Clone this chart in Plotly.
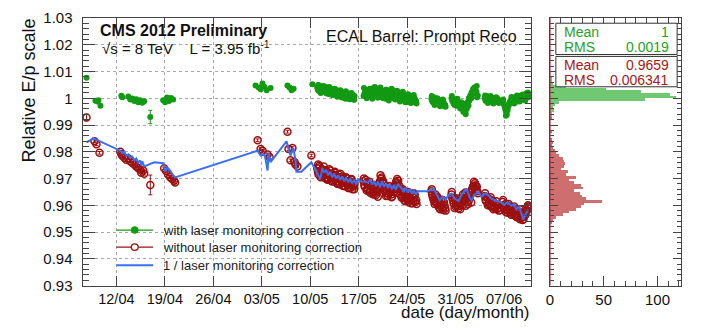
import plotly.graph_objects as go

# ---------------- data (x = day counted from 1 April 2012) ----------------
x_tick_vals = [12, 19, 26, 33, 40, 47, 54, 61, 68]
x_tick_text = ["12/04", "19/04", "26/04", "03/05", "10/05", "17/05", "24/05", "31/05", "07/06"]
y_tick_vals = [0.93, 0.94, 0.95, 0.96, 0.97, 0.98, 0.99, 1.0, 1.01, 1.02, 1.03]
y_tick_text = ["0.93", "0.94", "0.95", "0.96", "0.97", "0.98", "0.99", "1", "1.01", "1.02", "1.03"]
hist_tick_vals = [0, 50, 100]
hist_tick_text = ["0", "50", "100"]

# isolated early runs
green_sparse_x = [7.69, 8.98, 9.27, 9.41, 9.70, 12.72, 12.86, 13.72, 14.0, 14.3, 14.6, 14.87, 15.16, 15.45,
                  15.74, 16.02, 16.9, 18.75, 19.04, 19.33, 19.6, 19.9, 20.2, 32.1, 32.55, 32.83, 33.1, 33.4,
                  33.7, 34.27, 36.7, 37.0, 37.3, 37.6, 40.3]
green_sparse_y = [1.0077, 0.9991, 0.9988, 0.9993, 0.9972, 1.0009, 1.0004, 1.0007, 0.9995, 0.9999, 0.9990,
                  0.9996, 0.9985, 0.9993, 0.9983, 0.9989, 0.9930, 0.9993, 0.9985, 1.0003, 0.9990, 1.0001,
                  0.9995, 1.0048, 1.0040, 1.0034, 1.0055, 1.0042, 1.0030, 1.0038, 1.0048, 1.0040, 1.0030,
                  1.0036, 1.0052]
green_sparse_err = [0.0006, 0.0005, 0.0005, 0.0005, 0.0005, 0.0005, 0.0005, 0.0005, 0.0005, 0.0005, 0.0005,
                    0.0005, 0.0005, 0.0005, 0.0005, 0.0005, 0.0025, 0.0005, 0.0005, 0.0005, 0.0005, 0.0005,
                    0.0005, 0.0005, 0.0005, 0.0005, 0.0005, 0.0005, 0.0005, 0.0005, 0.0005, 0.0005, 0.0005,
                    0.0005, 0.0007]

red_sparse_x = [7.69, 8.84, 9.13, 9.56, 12.57, 12.72, 12.86, 13.15, 13.44, 13.72, 14.0, 14.3, 14.6, 14.87,
                15.16, 15.45, 15.59, 15.88, 16.02, 16.9, 18.9, 19.18, 19.47, 19.76, 20.05, 20.33, 20.48,
                32.40, 32.83, 33.12, 33.84, 34.13, 36.71, 36.86, 37.14, 37.43, 37.72, 37.86, 38.15, 40.16]
red_sparse_y = [0.9928, 0.9839, 0.9828, 0.9796, 0.9800, 0.9792, 0.9785, 0.9778, 0.9770, 0.9776, 0.9765,
                0.9758, 0.9752, 0.9745, 0.9738, 0.9733, 0.9722, 0.9730, 0.9718, 0.9676, 0.9738, 0.9728,
                0.9715, 0.9705, 0.9698, 0.9692, 0.9685, 0.9843, 0.9810, 0.9804, 0.9790, 0.9780, 0.9875,
                0.9810, 0.9768, 0.9814, 0.9762, 0.9752, 0.9745, 0.9786]
red_sparse_err = [0.0012, 0.0005, 0.0005, 0.0005, 0.0005, 0.0005, 0.0005, 0.0005, 0.0005, 0.0005, 0.0005,
                  0.0005, 0.0005, 0.0005, 0.0005, 0.0005, 0.0005, 0.0005, 0.0005, 0.0037, 0.0005, 0.0005,
                  0.0005, 0.0005, 0.0005, 0.0005, 0.0005, 0.0005, 0.0005, 0.0005, 0.0005, 0.0005, 0.0005,
                  0.0005, 0.0005, 0.0005, 0.0005, 0.0005, 0.0005, 0.0005]

# dense period: runs (same timestamps for corrected and uncorrected points)
run_a_x = [41.0, 41.2, 41.4, 41.6, 41.8, 42.0, 42.2, 42.4, 42.6, 42.8, 43.0, 43.2, 43.4, 43.6, 43.8, 44.0,
           44.2, 44.4, 44.6, 44.8, 45.0, 45.2, 45.4, 45.6, 45.8, 46.0, 46.2, 46.4]
run_a2_x = [41.1, 41.3, 41.5, 41.7, 41.9, 42.1, 42.3, 42.5, 42.7, 42.9, 43.1, 43.3, 43.5, 43.7, 43.9, 44.1,
            44.3, 44.5, 44.7, 44.9, 45.1, 45.3, 45.5, 45.7, 45.9, 46.1, 46.3]
run_a3_x = [41.15, 41.55, 41.95, 42.35, 42.75, 43.15, 43.55, 43.95, 44.35, 44.75, 45.15, 45.55, 45.95, 46.35]
run_b_x = [47.7, 47.9, 48.1, 48.3, 48.5, 48.7, 48.9, 49.1, 49.3, 49.5, 49.7, 49.9, 50.1, 50.3, 50.5, 50.7,
           50.9, 51.1, 51.3, 51.5, 51.7, 51.9, 52.1, 52.3, 52.5, 52.7, 52.9, 53.1, 53.3, 53.5, 53.7, 53.9,
           54.1, 54.3, 54.5, 54.7, 54.9, 55.1, 55.3]
run_b2_x = [47.8, 48.0, 48.2, 48.4, 48.6, 48.8, 49.0, 49.2, 49.4, 49.6, 49.8, 50.0, 50.2, 50.4, 50.6, 50.8,
            51.0, 51.2, 51.4, 51.6, 51.8, 52.0, 52.2, 52.4, 52.6, 52.8, 53.0, 53.2, 53.4, 53.6, 53.8, 54.0,
            54.2, 54.4, 54.6, 54.8, 55.0, 55.2]
run_b3_x = [47.75, 48.15, 48.55, 48.95, 49.35, 49.75, 50.15, 50.55, 50.95, 51.35, 51.75, 52.15, 52.55, 52.95,
            53.35, 53.75, 54.15, 54.55, 54.95, 55.35]
run_c_x = [57.5, 57.7, 57.9, 58.1, 58.3, 58.5, 58.7, 58.9, 59.1, 59.3, 59.5]
run_c2_x = [57.6, 57.8, 58.0, 58.2, 58.4, 58.6, 58.8, 59.0, 59.2, 59.4]
run_c3_x = [57.55, 57.95, 58.35, 58.75, 59.15, 59.55]
run_d_x = [60.4, 60.6, 60.8, 61.0, 61.2, 61.4, 61.6, 61.8, 62.0, 62.2, 62.4, 62.6, 62.8, 63.0, 63.2, 63.4,
           63.6, 63.8, 64.0, 64.2]
run_d2_x = [60.5, 60.7, 60.9, 61.1, 61.3, 61.5, 61.7, 61.9, 62.1, 62.3, 62.5, 62.7, 62.9, 63.1, 63.3, 63.5,
            63.7, 63.9, 64.1]
run_d3_x = [60.45, 60.85, 61.25, 61.65, 62.05, 62.45, 62.85, 63.25, 63.65, 64.05]
run_e_x = [65.2, 65.4, 65.6, 65.8, 66.0, 66.2, 66.4, 66.6, 66.8, 67.0, 67.2]
run_e2_x = [65.3, 65.5, 65.7, 65.9, 66.1, 66.3, 66.5, 66.7, 66.9, 67.1]
run_e3_x = [65.25, 65.65, 66.05, 66.45, 66.85, 67.25]
run_f_x = [67.8, 68.0, 68.2, 68.4, 68.6, 68.8, 69.0, 69.2, 69.4, 69.6, 69.8, 70.0, 70.2, 70.4, 70.6, 70.8,
           71.0, 71.2, 71.4, 71.6]
run_f2_x = [67.9, 68.1, 68.3, 68.5, 68.7, 68.9, 69.1, 69.3, 69.5, 69.7, 69.9, 70.1, 70.3, 70.5, 70.7, 70.9,
            71.1, 71.3, 71.5]
run_f3_x = [67.85, 68.25, 68.65, 69.05, 69.45, 69.85, 70.25, 70.65, 71.05, 71.45]

green_a = [1.0040, 1.0028, 1.0045, 1.0032, 1.0038, 1.0025, 1.0042, 1.0030, 1.0036, 1.0022, 1.0034, 1.0026,
           1.0018, 1.0030, 1.0020, 1.0028, 1.0012, 1.0024, 1.0016, 1.0008, 1.0020, 1.0010, 1.0002, 1.0015,
           1.0005, 1.0012, 0.9998, 1.0008]
green_a2 = [1.0032, 1.0048, 1.0020, 1.0036, 1.0044, 1.0024, 1.0030, 1.0040, 1.0016, 1.0028, 1.0035, 1.0012,
            1.0022, 1.0032, 1.0006, 1.0018, 1.0026, 1.0004, 1.0014, 1.0022, 0.9998, 1.0010, 1.0018, 0.9996,
            1.0006, 1.0014, 0.9994]
green_a3 = [1.0050, 1.0022, 1.0046, 1.0018, 1.0042, 1.0012, 1.0036, 1.0008, 1.0030, 1.0002, 1.0026, 0.9998,
            1.0020, 0.9995]
green_b = [1.0008, 1.0022, 1.0015, 1.0030, 1.0018, 1.0025, 1.0010, 1.0032, 1.0020, 1.0035, 1.0018, 1.0005,
           1.0020, 1.0028, 1.0012, 1.0022, 0.9998, 1.0015, 1.0025, 1.0008, 1.0020, 1.0030, 1.0010, 0.9995,
           1.0012, 1.0022, 1.0005, 0.9992, 1.0010, 1.0018, 0.9995, 1.0005, 0.9988, 1.0002, 0.9992, 1.0008,
           0.9985, 0.9998, 0.9990]
green_b2 = [1.0015, 1.0030, 1.0005, 1.0024, 1.0036, 1.0012, 1.0028, 1.0040, 1.0015, 1.0026, 1.0010, 1.0030,
            1.0016, 1.0004, 1.0026, 1.0018, 1.0032, 1.0012, 1.0000, 1.0022, 1.0014, 1.0026, 1.0002, 1.0018,
            1.0008, 0.9998, 1.0016, 1.0004, 1.0020, 0.9996, 1.0010, 0.9992, 1.0002, 0.9984, 0.9998, 0.9990,
            1.0002, 0.9986]
green_b3 = [1.0038, 1.0000, 1.0034, 0.9998, 1.0042, 1.0002, 1.0040, 1.0000, 1.0032, 0.9992, 1.0036, 0.9998,
            1.0028, 0.9988, 1.0024, 0.9985, 1.0015, 0.9982, 1.0012, 0.9980]
green_c = [0.9998, 0.9985, 1.0002, 0.9990, 0.9980, 0.9995, 0.9985, 0.9978, 0.9992, 0.9982, 0.9975]
green_c2 = [0.9990, 1.0004, 0.9980, 0.9996, 0.9986, 0.9975, 0.9990, 0.9976, 0.9986, 0.9970]
green_c3 = [1.0008, 0.9975, 1.0000, 0.9970, 0.9995, 0.9968]
green_d = [1.0000, 0.9988, 0.9995, 0.9978, 0.9990, 0.9982, 0.9970, 0.9985, 0.9965, 0.9956, 0.9945, 0.9960,
           0.9978, 0.9992, 1.0005, 1.0016, 1.0030, 1.0041, 1.0025, 1.0010]
green_d2 = [0.9992, 0.9980, 0.9986, 0.9972, 0.9985, 0.9975, 0.9978, 0.9962, 0.9950, 0.9952, 0.9968, 0.9985,
            1.0000, 1.0010, 1.0022, 1.0034, 1.0028, 1.0018, 1.0004]
green_d3 = [1.0008, 0.9975, 0.9998, 0.9962, 0.9980, 0.9940, 0.9972, 1.0000, 1.0038, 1.0046]
green_e = [1.0000, 0.9990, 1.0005, 0.9995, 0.9985, 1.0002, 0.9992, 0.9998, 0.9988, 1.0000, 0.9993]
green_e2 = [0.9992, 1.0008, 0.9988, 0.9998, 0.9992, 0.9985, 1.0000, 0.9990, 0.9995, 0.9985]
green_e3 = [1.0010, 0.9982, 1.0008, 0.9980, 1.0004, 0.9982]
green_f = [0.9990, 0.9975, 0.9956, 0.9938, 0.9968, 0.9985, 0.9995, 1.0000, 0.9985, 0.9992, 1.0002, 0.9990,
           1.0008, 0.9998, 1.0005, 1.0010, 0.9995, 1.0016, 1.0008, 1.0012]
green_f2 = [0.9982, 0.9965, 0.9948, 0.9955, 0.9978, 0.9990, 0.9984, 0.9994, 1.0004, 0.9986, 0.9996, 1.0006,
            0.9992, 1.0002, 1.0014, 1.0000, 1.0008, 1.0020, 1.0004]
green_f3 = [0.9995, 0.9935, 0.9975, 1.0005, 0.9980, 1.0010, 0.9988, 1.0012, 0.9992, 1.0022]

red_a = [0.9738, 0.9715, 0.9742, 0.9722, 0.9708, 0.9732, 0.9712, 0.9725, 0.9700, 0.9720, 0.9703, 0.9715,
         0.9692, 0.9712, 0.9688, 0.9706, 0.9680, 0.9700, 0.9684, 0.9696, 0.9672, 0.9690, 0.9676, 0.9692,
         0.9665, 0.9686, 0.9670, 0.9680]
red_a2 = [0.9725, 0.9748, 0.9705, 0.9735, 0.9718, 0.9702, 0.9728, 0.9695, 0.9715, 0.9730, 0.9690, 0.9708,
          0.9722, 0.9685, 0.9700, 0.9715, 0.9678, 0.9695, 0.9708, 0.9672, 0.9688, 0.9700, 0.9665, 0.9682,
          0.9695, 0.9660, 0.9675]
red_a3 = [0.9752, 0.9712, 0.9745, 0.9698, 0.9735, 0.9690, 0.9725, 0.9680, 0.9718, 0.9672, 0.9705, 0.9665,
          0.9698, 0.9660]
red_b = [0.9690, 0.9668, 0.9684, 0.9660, 0.9678, 0.9655, 0.9672, 0.9650, 0.9666, 0.9638, 0.9655, 0.9672,
         0.9690, 0.9704, 0.9682, 0.9662, 0.9646, 0.9668, 0.9642, 0.9660, 0.9640, 0.9664, 0.9650, 0.9668,
         0.9682, 0.9692, 0.9672, 0.9650, 0.9632, 0.9652, 0.9625, 0.9645, 0.9622, 0.9640, 0.9618, 0.9636,
         0.9615, 0.9638, 0.9620]
red_b2 = [0.9675, 0.9695, 0.9662, 0.9680, 0.9648, 0.9668, 0.9660, 0.9640, 0.9658, 0.9648, 0.9665, 0.9685,
          0.9698, 0.9690, 0.9670, 0.9652, 0.9660, 0.9635, 0.9655, 0.9648, 0.9632, 0.9658, 0.9672, 0.9688,
          0.9678, 0.9660, 0.9642, 0.9628, 0.9645, 0.9618, 0.9635, 0.9628, 0.9612, 0.9630, 0.9622, 0.9608,
          0.9628, 0.9612]
red_b3 = [0.9700, 0.9655, 0.9688, 0.9642, 0.9676, 0.9632, 0.9712, 0.9690, 0.9635, 0.9672, 0.9630, 0.9675,
          0.9698, 0.9640, 0.9660, 0.9615, 0.9650, 0.9608, 0.9645, 0.9605]
red_c = [0.9652, 0.9630, 0.9615, 0.9640, 0.9605, 0.9625, 0.9598, 0.9618, 0.9590, 0.9612, 0.9588]
red_c2 = [0.9640, 0.9622, 0.9632, 0.9610, 0.9620, 0.9592, 0.9608, 0.9600, 0.9582, 0.9598]
red_c3 = [0.9660, 0.9605, 0.9632, 0.9585, 0.9620, 0.9580]
red_d = [0.9640, 0.9618, 0.9628, 0.9595, 0.9612, 0.9588, 0.9608, 0.9622, 0.9600, 0.9635, 0.9648, 0.9628,
         0.9605, 0.9625, 0.9648, 0.9662, 0.9672, 0.9682, 0.9660, 0.9645]
red_d2 = [0.9628, 0.9608, 0.9620, 0.9602, 0.9595, 0.9615, 0.9598, 0.9612, 0.9628, 0.9618, 0.9640, 0.9612,
          0.9618, 0.9638, 0.9655, 0.9670, 0.9665, 0.9675, 0.9652]
red_d3 = [0.9650, 0.9590, 0.9625, 0.9585, 0.9640, 0.9598, 0.9635, 0.9610, 0.9688, 0.9670]
red_e = [0.9635, 0.9615, 0.9628, 0.9608, 0.9622, 0.9600, 0.9615, 0.9592, 0.9605, 0.9585, 0.9600]
red_e2 = [0.9622, 0.9628, 0.9605, 0.9615, 0.9595, 0.9610, 0.9598, 0.9588, 0.9598, 0.9590]
red_e3 = [0.9645, 0.9600, 0.9630, 0.9585, 0.9615, 0.9580]
red_f = [0.9612, 0.9592, 0.9605, 0.9582, 0.9598, 0.9575, 0.9592, 0.9570, 0.9588, 0.9565, 0.9582, 0.9560,
         0.9575, 0.9552, 0.9568, 0.9548, 0.9562, 0.9578, 0.9590, 0.9575]
red_f2 = [0.9600, 0.9585, 0.9595, 0.9572, 0.9588, 0.9582, 0.9565, 0.9580, 0.9575, 0.9558, 0.9572, 0.9565,
          0.9548, 0.9562, 0.9556, 0.9570, 0.9585, 0.9580, 0.9595]
red_f3 = [0.9620, 0.9575, 0.9605, 0.9565, 0.9595, 0.9555, 0.9585, 0.9545, 0.9565, 0.9600]

blue_x = [7.69, 8.70, 12.57, 12.86, 13.15, 13.44, 13.72, 14.0, 14.3, 14.6, 14.87, 15.16, 15.45, 15.59, 15.74,
          16.02, 16.9, 17.5, 18.75, 19.04, 19.33, 19.76, 20.2, 20.48,
          32.40, 32.83, 33.41, 33.84, 33.98, 34.27, 36.57, 37.14, 37.57, 37.86, 38.0, 38.72, 40.16, 41.45,
          41.74, 42.03, 42.32, 42.60, 42.89, 43.18, 43.47, 43.75, 44.04, 44.33, 44.62, 44.90, 45.19, 45.48,
          45.76, 46.05, 46.34, 46.63, 46.91, 47.20,
          48.35, 48.64, 48.93, 49.21, 49.50, 49.79, 50.08, 50.36, 50.65, 50.94, 51.23, 51.51, 51.80, 52.09,
          52.37, 52.66, 52.95, 53.24, 53.52, 53.81, 54.10, 54.38, 54.67, 54.96, 55.25, 55.53,
          56.83, 57.83, 58.26, 58.70, 59.13, 59.56, 59.99, 60.42, 60.85, 61.43, 61.86, 62.58, 63.01, 63.29,
          63.72, 64.30, 64.73, 65.31, 65.74, 66.17, 66.88, 67.46, 68.04, 68.47, 69.04, 69.47, 69.76, 70.19,
          70.48, 70.77, 71.20, 71.48]
blue_y = [0.9835, 0.9850, 0.9804, 0.9795, 0.9800, 0.9785, 0.9790, 0.9778, 0.9782, 0.9768, 0.9775, 0.9760,
          0.9768, 0.9748, 0.9765, 0.9745, 0.9755, 0.9761, 0.9757, 0.9725, 0.9740, 0.9730, 0.9712, 0.9704,
          0.9804, 0.9786, 0.9790, 0.9730, 0.9796, 0.9761, 0.9839, 0.9786, 0.9814, 0.9768, 0.9725, 0.9725,
          0.9761, 0.9697,
          0.9740, 0.9722, 0.9732, 0.9712, 0.9725, 0.9705, 0.9718, 0.9700, 0.9712, 0.9695, 0.9708, 0.9690,
          0.9702, 0.9688, 0.9698, 0.9682, 0.9695, 0.9678, 0.9700, 0.9690,
          0.9685, 0.9695, 0.9678, 0.9690, 0.9672, 0.9688, 0.9668, 0.9690, 0.9670, 0.9682, 0.9665, 0.9678,
          0.9660, 0.9675, 0.9658, 0.9680, 0.9670, 0.9662, 0.9650, 0.9665, 0.9648, 0.9660, 0.9644, 0.9655,
          0.9640, 0.9652,
          0.9652, 0.9662, 0.9640, 0.9619, 0.9632, 0.9622, 0.9638, 0.9644, 0.9625, 0.9616, 0.9640, 0.9662,
          0.9630, 0.9619, 0.9640, 0.9651, 0.9632, 0.9645, 0.9637, 0.9625, 0.9616, 0.9612, 0.9601, 0.9612,
          0.9598, 0.9605, 0.9584, 0.9595, 0.9570, 0.9548, 0.9570, 0.9584]

# projected histograms (bin width 0.001)
hist_bin_width = 0.001
green_hist_y = [1.0075, 1.0065, 1.0055, 1.0045, 1.0035, 1.0025, 1.0015, 1.0005, 0.9995, 0.9985, 0.9975,
                0.9965, 0.9955, 0.9945, 0.9935, 0.9925]
green_hist_n = [1, 1, 3, 15, 52, 85, 112, 117, 88, 8, 5, 3, 4, 2, 1, 1]
red_hist_y = [0.9925, 0.9875, 0.9845, 0.9835, 0.9825, 0.9815, 0.9805, 0.9795, 0.9785, 0.9775, 0.9765,
              0.9755, 0.9745, 0.9735, 0.9725, 0.9715, 0.9705, 0.9695, 0.9685, 0.9675, 0.9665, 0.9655,
              0.9645, 0.9635, 0.9625, 0.9615, 0.9605, 0.9595, 0.9585, 0.9575, 0.9565, 0.9555, 0.9545, 0.9535]
red_hist_n = [1, 1, 2, 3, 2, 3, 5, 6, 8, 12, 13, 14, 13, 10, 17, 15, 24, 18, 22, 29, 31, 22, 28, 30, 33,
              48, 32, 29, 24, 18, 12, 6, 3, 1]

green_stats = [("Mean", "1"), ("RMS", "0.0019")]
red_stats = [("Mean", "0.9659"), ("RMS", "0.006341")]
legend_labels = ["with laser monitoring correction", "without laser monitoring correction",
                 "1 / laser monitoring correction"]

# ---------------- styling ----------------
W, H = 704, 331
FONT = "Liberation Sans, Arial, Helvetica, sans-serif"
GREEN = "#129a12"
RED = "#9c1010"
BLUE = "#3a6ff0"
AXC = "#444444"


def px(v):
    return v / W


def py(v):
    return 1 - v / H


dense_x = (run_a_x + run_a2_x + run_a3_x + run_b_x + run_b2_x + run_b3_x + run_c_x + run_c2_x + run_c3_x +
           run_d_x + run_d2_x + run_d3_x + run_e_x + run_e2_x + run_e3_x + run_f_x + run_f2_x + run_f3_x)
green_dense_y = (green_a + green_a2 + green_a3 + green_b + green_b2 + green_b3 + green_c + green_c2 +
                 green_c3 + green_d + green_d2 + green_d3 + green_e + green_e2 + green_e3 + green_f +
                 green_f2 + green_f3)
red_dense_y = (red_a + red_a2 + red_a3 + red_b + red_b2 + red_b3 + red_c + red_c2 + red_c3 +
               red_d + red_d2 + red_d3 + red_e + red_e2 + red_e3 + red_f + red_f2 + red_f3)

fig = go.Figure()

red_marker = dict(symbol="circle-open", size=7, color=RED, line=dict(width=1.5, color=RED))
fig.add_trace(go.Scatter(x=dense_x, y=red_dense_y, mode="markers", marker=red_marker,
                         showlegend=False, xaxis="x", yaxis="y"))
fig.add_trace(go.Scatter(x=red_sparse_x, y=red_sparse_y, mode="markers", marker=red_marker,
                         error_y=dict(type="data", array=red_sparse_err, color=RED, thickness=1, width=2),
                         showlegend=False, xaxis="x", yaxis="y"))
fig.add_trace(go.Scatter(x=blue_x, y=blue_y, mode="lines", line=dict(color=BLUE, width=2),
                         showlegend=False, xaxis="x", yaxis="y"))
green_marker = dict(symbol="circle", size=6, color=GREEN)
fig.add_trace(go.Scatter(x=dense_x, y=green_dense_y, mode="markers", marker=green_marker,
                         showlegend=False, xaxis="x", yaxis="y"))
fig.add_trace(go.Scatter(x=green_sparse_x, y=green_sparse_y, mode="markers", marker=green_marker,
                         error_y=dict(type="data", array=green_sparse_err, color=GREEN, thickness=1, width=2),
                         showlegend=False, xaxis="x", yaxis="y"))

# histograms
fig.add_trace(go.Bar(x=green_hist_n, y=green_hist_y, orientation="h", width=hist_bin_width,
                     marker=dict(color="rgb(112,200,112)", line=dict(width=0)),
                     showlegend=False, xaxis="x2", yaxis="y2"))
fig.add_trace(go.Bar(x=red_hist_n, y=red_hist_y, orientation="h", width=hist_bin_width,
                     marker=dict(color="rgb(206,110,110)", line=dict(width=0)),
                     showlegend=False, xaxis="x2", yaxis="y2"))

x_dom = [px(79), px(530)]
h_dom = [px(549), px(681)]
y_dom = [py(291.5), py(9.5)]

common_axis = dict(showline=True, linecolor=AXC, linewidth=1, ticks="inside", tickcolor=AXC,
                   mirror="allticks", zeroline=False)
tick_font = dict(family=FONT, size=15, color="#111111")
xtick_font = dict(family=FONT, size=14.5, color="#111111")

fig.update_layout(
    width=W, height=H, margin=dict(l=0, r=0, t=0, b=0),
    paper_bgcolor="white", plot_bgcolor="white", barmode="overlay", bargap=0,
    font=dict(family=FONT, color="#111111"),
    xaxis=dict(domain=x_dom, range=[7.115, 71.88], tickmode="array", tickvals=x_tick_vals,
               ticktext=x_tick_text, ticklen=10, showgrid=True, gridcolor="#a8a8a8", griddash="dot",
               gridwidth=1, anchor="y", ticklabelstandoff=0, tickfont=xtick_font, **common_axis),
    yaxis=dict(domain=y_dom, range=[0.93, 1.03], tickmode="array", tickvals=y_tick_vals,
               ticktext=y_tick_text, ticklen=12, showgrid=True, gridcolor="#a8a8a8", griddash="dot",
               gridwidth=1, anchor="x", ticklabelstandoff=6, tickfont=tick_font,
               minor=dict(tickmode="linear", tick0=0.93, dtick=0.002, ticks="inside", ticklen=6,
                          tickcolor=AXC, showgrid=False),
               **common_axis),
    xaxis2=dict(domain=h_dom, range=[0, 122], tickmode="array", tickvals=hist_tick_vals,
                ticktext=hist_tick_text, ticklen=10, showgrid=False, anchor="y2", ticklabelstandoff=0,
                tickfont=tick_font,
                minor=dict(tickmode="linear", tick0=0, dtick=10, ticks="inside", ticklen=5,
                           tickcolor=AXC, showgrid=False),
                **common_axis),
    yaxis2=dict(domain=y_dom, range=[0.93, 1.03], tickmode="array", tickvals=y_tick_vals,
                showticklabels=False, ticklen=8, showgrid=False, anchor="x2",
                minor=dict(tickmode="linear", tick0=0.93, dtick=0.002, ticks="inside", ticklen=4,
                           tickcolor=AXC, showgrid=False),
                **common_axis),
)

shapes = []
annotations = []

# histogram outline along zero
shapes.append(dict(type="line", xref="x2", yref="y2", x0=0, x1=0, y0=0.93, y1=1.03,
                   line=dict(color="#b03a3a", width=1.5)))

# stat boxes
for (top, bot, stats, col) in [(15, 48, green_stats, "rgb(40,160,40)"), (50, 82, red_stats, "rgb(165,25,25)")]:
    shapes.append(dict(type="rect", xref="paper", yref="paper", x0=px(555), x1=px(677), y0=py(bot),
                       y1=py(top), line=dict(color="#333333", width=1), fillcolor="white", layer="above"))
    rows = [top + 9.5, top + 25]
    for (lab, val), yy in zip(stats, rows):
        annotations.append(dict(xref="paper", yref="paper", x=px(561), y=py(yy), text=lab, showarrow=False,
                                xanchor="left", yanchor="middle", font=dict(family=FONT, size=14, color=col)))
        annotations.append(dict(xref="paper", yref="paper", x=px(671), y=py(yy), text=val, showarrow=False,
                                xanchor="right", yanchor="middle", font=dict(family=FONT, size=14, color=col)))

# legend (manual, no background)
leg_rows = [233, 251, 270]
leg_cols = [GREEN, RED, BLUE]
for i, (yy, col, lab) in enumerate(zip(leg_rows, leg_cols, legend_labels)):
    shapes.append(dict(type="line", xref="paper", yref="paper", x0=px(113), x1=px(150), y0=py(yy), y1=py(yy),
                       line=dict(color=col, width=2 if i == 2 else 1.2)))
    annotations.append(dict(xref="paper", yref="paper", x=px(158), y=py(yy), text=lab, showarrow=False,
                            xanchor="left", yanchor="middle", font=dict(family=FONT, size=13, color="#222222")))
shapes.append(dict(type="circle", xref="paper", yref="paper", x0=px(128), x1=px(135), y0=py(236.5),
                   y1=py(229.5), line=dict(color=GREEN, width=1), fillcolor=GREEN))
shapes.append(dict(type="circle", xref="paper", yref="paper", x0=px(128), x1=px(135), y0=py(254.5),
                   y1=py(247.5), line=dict(color=RED, width=1.3), fillcolor="white"))

# titles / labels
annotations.append(dict(xref="paper", yref="paper", x=px(95), y=py(23), text="<b>CMS 2012 Preliminary</b>",
                        showarrow=False, xanchor="left", yanchor="middle",
                        font=dict(family=FONT, size=16, color="#111111")))
annotations.append(dict(xref="paper", yref="paper", x=px(97), y=py(41),
                        text="√s = 8 TeV&nbsp;&nbsp;&nbsp;&nbsp;L = 3.95 fb<sup>-1</sup>",
                        showarrow=False, xanchor="left", yanchor="middle",
                        font=dict(family=FONT, size=15, color="#111111")))
annotations.append(dict(xref="paper", yref="paper", x=px(322), y=py(29), text="ECAL Barrel: Prompt Reco",
                        showarrow=False, xanchor="left", yanchor="middle",
                        font=dict(family=FONT, size=16, color="#111111")))
annotations.append(dict(xref="paper", yref="paper", x=px(25), y=py(86), text="Relative E/p scale",
                        textangle=-90, showarrow=False, xanchor="center", yanchor="middle",
                        font=dict(family=FONT, size=18, color="#111111")))
annotations.append(dict(xref="paper", yref="paper", x=px(530), y=py(331), text="date (day/month)",
                        showarrow=False, xanchor="right", yanchor="bottom", borderpad=0,
                        font=dict(family=FONT, size=17, color="#111111")))

fig.update_layout(shapes=shapes, annotations=annotations)
fig.write_html("out.html")
